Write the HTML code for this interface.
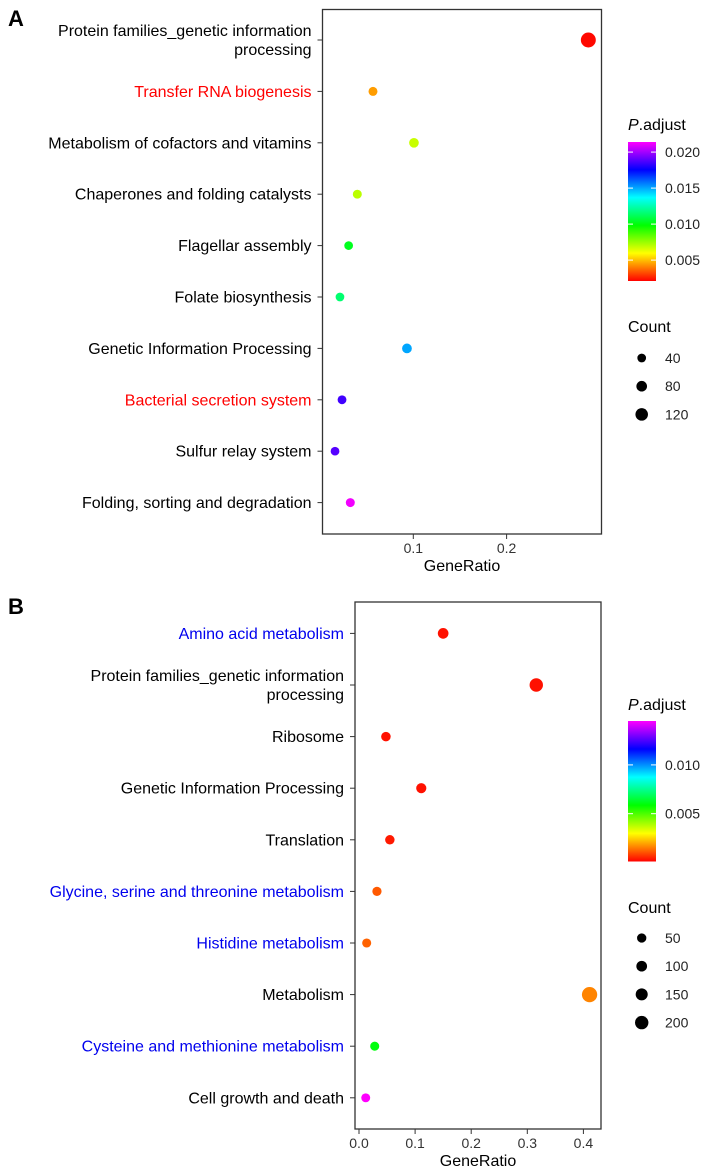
<!DOCTYPE html>
<html><head><meta charset="utf-8"><style>
html,body{margin:0;padding:0;background:#fff;}
svg{display:block;font-family:"Liberation Sans",Arial,sans-serif;}
</style></head><body>
<svg id="chart" width="708" height="1174" viewBox="0 0 708 1174">
<defs>
<linearGradient id="gradA" x1="0" y1="1" x2="0" y2="0"></linearGradient>
<linearGradient id="gradB" x1="0" y1="1" x2="0" y2="0"></linearGradient>
</defs>
<text x="8" y="26" font-size="22" font-weight="bold">A</text>
<text x="8" y="614" font-size="22" font-weight="bold">B</text>
</svg>
<script>
// Panel A data
const catsA = ["Protein families_genetic information|processing","Transfer RNA biogenesis","Metabolism of cofactors and vitamins","Chaperones and folding catalysts","Flagellar assembly","Folate biosynthesis","Genetic Information Processing","Bacterial secretion system","Sulfur relay system","Folding, sorting and degradation"];
const labelColorA = ["#000","#ff0000","#000","#000","#000","#000","#000","#ff0000","#000","#000"];
const ratioA = [0.2876,0.0568,0.1007,0.040,0.0307,0.0214,0.0932,0.0236,0.0161,0.0325];
const countA = [170,45,60,45,40,40,62,42,40,45];
const padjA = [0.0022,0.0045,0.0068,0.0070,0.0103,0.0115,0.0150,0.0185,0.0188,0.0212];
const ticksA = [0.1,0.2];
const legendValsA = [0.005,0.010,0.015,0.020];
const countLegendA = [40,80,120];
// Panel B data
const catsB = ["Amino acid metabolism","Protein families_genetic information|processing","Ribosome","Genetic Information Processing","Translation","Glycine, serine and threonine metabolism","Histidine metabolism","Metabolism","Cysteine and methionine metabolism","Cell growth and death"];
const labelColorB = ["#0000ee","#000","#000","#000","#000","#0000ee","#0000ee","#000","#0000ee","#000"];
const ratioB = [0.150,0.316,0.048,0.111,0.055,0.032,0.0137,0.411,0.028,0.012];
const countB = [100,200,55,80,55,45,40,270,40,35];
const padjB = [0.0003,0.0003,0.0003,0.0003,0.0004,0.0011,0.0012,0.0016,0.0060,0.0145];
const ticksB = [0.0,0.1,0.2,0.3,0.4];
const legendValsB = [0.005,0.010];
const countLegendB = [50,100,150,200];

const NS="http://www.w3.org/2000/svg";
const svg=document.getElementById('chart');
function mk(tag,attrs,parent){const e=document.createElementNS(NS,tag);for(const k in attrs)e.setAttribute(k,attrs[k]);(parent||svg).appendChild(e);return e;}
function hue(v,min,max){let t=(v-min)/(max-min);t=Math.max(0,Math.min(1,t));return "hsl("+(t*300).toFixed(0)+",100%,50%)";}

function panel(cfg){
  const g=mk('g',{});
  
  
  const xS=v=>cfg.x0+(v-cfg.d0)*cfg.pxPer;
  const yS=i=>cfg.y0+i*cfg.step;
  const box=mk('rect',{x:cfg.left,y:cfg.top,width:cfg.right-cfg.left,height:cfg.bottom-cfg.top,fill:'none',stroke:'#333','stroke-width':1.3},g);
  
  
  cfg.cats.forEach((c,i)=>{
    const y=yS(i);
    const tk=mk('line',{x1:cfg.left-5,x2:cfg.left,y1:y,y2:y,stroke:'#333','stroke-width':1},g);
    
    
    const parts=c.split('|');
    const t=mk('text',{x:cfg.left-11,y:y+(parts.length>1?-4:5.5),'text-anchor':'end','font-size':16,fill:cfg.lc[i]},g);
    
    
    parts.forEach((p,j)=>{const s=mk('tspan',{x:cfg.left-11,dy:j?19:0},t);s.textContent=p;});
  });
  cfg.ticks.forEach(v=>{
    const x=xS(v);
    const tk=mk('line',{x1:x,x2:x,y1:cfg.bottom,y2:cfg.bottom+5,stroke:'#333','stroke-width':1},g);
    
    
    const t=mk('text',{x:x,y:cfg.bottom+19,'text-anchor':'middle','font-size':14,fill:'#333'},g);
    
    
    t.textContent=v.toFixed(1);
  });
  const xt=mk('text',{x:(cfg.left+cfg.right)/2,y:cfg.bottom+37,'text-anchor':'middle','font-size':16},g);
  
  
  xt.textContent='GeneRatio';
  cfg.ratio.forEach((r,i)=>{
    const c=mk('circle',{cx:xS(r),cy:yS(i),r:cfg.rad(cfg.count[i]),fill:hue(cfg.padj[i],cfg.pmin,cfg.pmax)},g);
    
    
  });
  const lt=mk('text',{x:628,y:cfg.legTitleY,'font-size':16},g);
  
  
  const it=mk('tspan',{'font-style':'italic'},lt);it.textContent='P';
  const rt=mk('tspan',{},lt);rt.textContent='.adjust';
  const grad=document.getElementById(cfg.grad);
  for(let k=0;k<=10;k++){mk('stop',{offset:(k/10),'stop-color':'hsl('+(k*30)+',100%,50%)'},grad);}
  const bar=mk('rect',{x:628,y:cfg.barTop,width:28,height:cfg.barBot-cfg.barTop,fill:'url(#'+cfg.grad+')'},g);
  
  
  cfg.legVals.forEach(v=>{
    const y=cfg.barBot-(v-cfg.pmin)/(cfg.pmax-cfg.pmin)*(cfg.barBot-cfg.barTop);
    mk('line',{x1:628,x2:633,y1:y,y2:y,stroke:'#fff','stroke-width':1},g);
    mk('line',{x1:651,x2:656,y1:y,y2:y,stroke:'#fff','stroke-width':1},g);
    const t=mk('text',{x:665,y:y+5,'font-size':14,fill:'#222'},g);
    
    
    t.textContent=v.toFixed(3);
  });
  const ct=mk('text',{x:628,y:cfg.cntTitleY,'font-size':16},g);
  
  
  ct.textContent='Count';
  cfg.cntLeg.forEach((v,k)=>{
    const y=cfg.cntY0+k*cfg.cntStep;
    const c=mk('circle',{cx:641.7,cy:y,r:cfg.rad(v),fill:'#000'},g);
    
    
    const t=mk('text',{x:665,y:y+5,'font-size':14,fill:'#222'},g);
    
    
    t.textContent=v;
  });
}
panel({name:'panel-a',cats:catsA,lc:labelColorA,ratio:ratioA,count:countA,padj:padjA,ticks:ticksA,
  left:322.5,right:601.5,top:9.5,bottom:534,x0:320,d0:0,pxPer:933,y0:40,step:51.4,
  rad:c=>3.4+c*0.024,pmin:0.0021,pmax:0.0214,grad:'gradA',legVals:legendValsA,
  legTitleY:130,barTop:142,barBot:281,cntTitleY:332,cntLeg:countLegendA,cntY0:358,cntStep:28.2});
panel({name:'panel-b',cats:catsB,lc:labelColorB,ratio:ratioB,count:countB,padj:padjB,ticks:ticksB,
  left:355,right:601,top:602,bottom:1129,x0:359,d0:0,pxPer:561,y0:633.4,step:51.6,
  rad:c=>4.0+c*0.0135,pmin:0.0001,pmax:0.0145,grad:'gradB',legVals:legendValsB,
  legTitleY:710,barTop:721,barBot:861.5,cntTitleY:913,cntLeg:countLegendB,cntY0:938,cntStep:28.2});
</script>
</body></html>
